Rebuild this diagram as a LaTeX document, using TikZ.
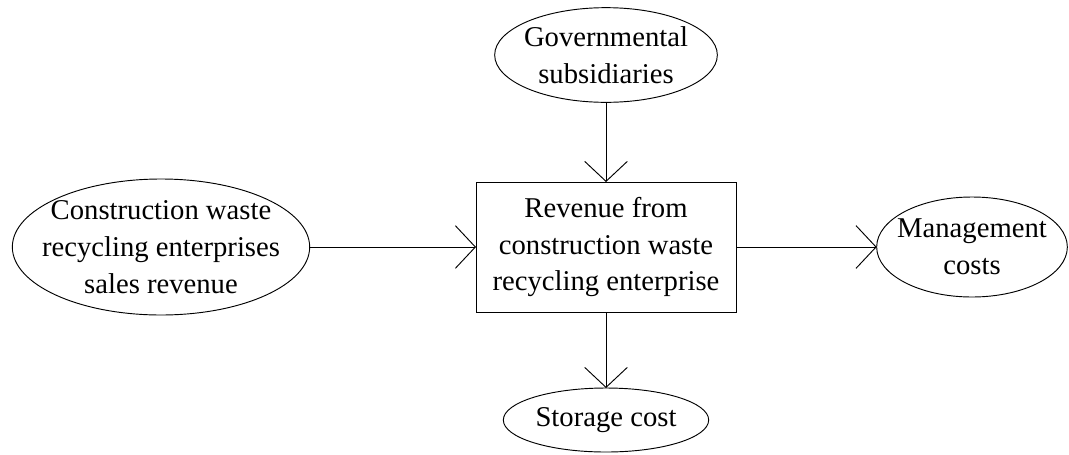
\documentclass[tikz,border=0pt]{standalone}
\usepackage{fontspec}
\setmainfont{Liberation Serif}
\usetikzlibrary{arrows.meta,shapes.geometric,positioning}

\begin{document}
\begin{tikzpicture}[
  x=0.75pt, y=-0.75pt,
  lbl/.style={align=center, font=\fontsize{21.5}{27.5}\selectfont},
  oval/.style={lbl, draw, ellipse, inner sep=-20pt, outer sep=0pt, line width=0.7pt},
  box/.style={lbl, draw, rectangle, inner sep=0pt, outer sep=0pt, line width=0.7pt, minimum width=195pt, minimum height=97.5pt},
  flow/.style={-{Straight Barb[length=15pt,width=32pt]}, line width=0.7pt},
]
\useasboundingbox (0,0) rectangle (1069,454);
\node[box] (rev) at (606,247) {Revenue from\\construction waste\\recycling enterprise};
\node[oval, minimum width=167pt, minimum height=71pt] (gov) at (606,55) {Governmental\\subsidiaries};
\node[oval, minimum width=223pt, minimum height=102pt] (sales) at (161,247) {Construction waste\\recycling enterprises\\sales revenue};
\node[oval, minimum width=143pt, minimum height=75pt] (mgmt) at (972,247) {Management\\costs};
\node[oval, minimum width=154pt, minimum height=48pt] (store) at (606,420) {Storage cost};
\draw[flow] (gov) -- (rev);
\draw[flow] (sales) -- (rev);
\draw[flow] (rev) -- (mgmt);
\draw[flow] (rev) -- (store);
\end{tikzpicture}
\end{document}
